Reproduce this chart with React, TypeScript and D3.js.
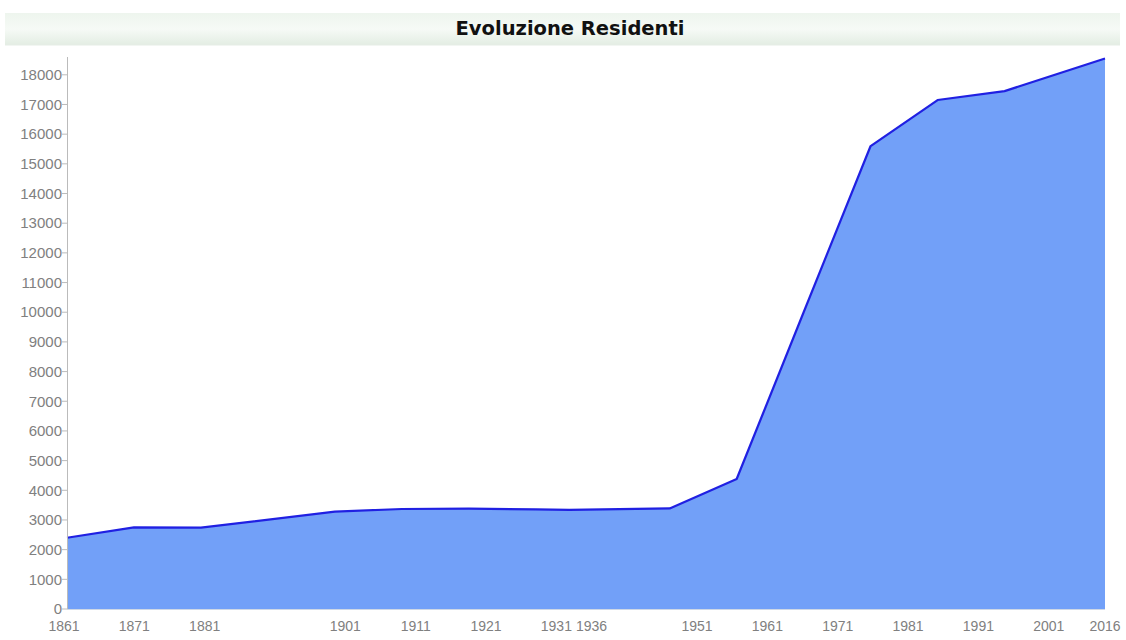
import React from "react";
import * as d3 from "d3";

const years = [1861, 1871, 1881, 1901, 1911, 1921, 1931, 1936, 1951, 1961, 1971, 1981, 1991, 2001, 2016];
const residents = [2400, 2750, 2740, 3280, 3370, 3380, 3360, 3340, 3390, 4380, 10000, 15600, 17150, 17450, 18550];
const yTicks = d3.range(0, 18001, 1000);
const xTickLabels = years;
const title = "Evoluzione Residenti";

const W = 1126;
const H = 640;
const left = 67;
const right = 1105;
const top = 57;
const bottom = 609;

export default function App() {
  const x = d3.scaleLinear().domain([1861, 2016]).range([left, right]);
  const y = d3.scaleLinear().domain([0, 18600]).range([bottom, top]);
  // the original chart spreads its tick labels on a slightly different scale than the data
  const xl = d3.scaleLinear().domain([1861, 2009]).range([left - 3, right]).clamp(true);

  const data = years.map((yr, i) => ({ yr, v: residents[i] }));
  const area = d3
    .area<{ yr: number; v: number }>()
    .x((d) => x(d.yr))
    .y0(y(0))
    .y1((d) => y(d.v));
  const line = d3
    .line<{ yr: number; v: number }>()
    .x((d) => x(d.yr))
    .y((d) => y(d.v));

  return (
    <svg width={W} height={H} style={{ position: "absolute", left: 0, top: 0, background: "#fff" }}>
      <defs>
        <linearGradient id="tbar" x1="0" y1="0" x2="0" y2="1">
          <stop offset="0" stopColor="#eef5ee" />
          <stop offset="0.5" stopColor="#f6faf6" />
          <stop offset="1" stopColor="#e3ede3" />
        </linearGradient>
      </defs>
      <rect x={5} y={13} width={1115} height={32} fill="url(#tbar)" />
      <line x1={5} x2={1120} y1={45} y2={45} stroke="#e6ede6" strokeWidth={1} />
      <text
        x={570}
        y={35}
        textAnchor="middle"
        fontFamily="DejaVu Sans"
        fontWeight="bold"
        fontSize={19.5}
        fill="#111"
      >
        {title}
      </text>

      <path d={area(data) || ""} fill="#72a0f8" />
      <path d={line(data) || ""} fill="none" stroke="#2020e2" strokeWidth={2.2} strokeLinejoin="round" />

      <line x1={left + 0.5} x2={left + 0.5} y1={top} y2={bottom} stroke="#bbbbbb" strokeWidth={1} />
      <line x1={left} x2={right} y1={bottom + 0.5} y2={bottom + 0.5} stroke="#cfd8e6" strokeWidth={1} />

      {yTicks.map((t) => (
        <g key={t}>
          <line x1={left - 5} x2={left} y1={y(t)} y2={y(t)} stroke="#bbbbbb" strokeWidth={1} />
          <text
            x={left - 5}
            y={y(t)}
            dy="0.35em"
            textAnchor="end"
            fontFamily="Liberation Sans"
            fontSize={15}
            fill="#808080"
          >
            {t}
          </text>
        </g>
      ))}

      {xTickLabels.map((t) => (
        <text
          key={t}
          x={xl(t)}
          y={631}
          textAnchor="middle"
          fontFamily="Liberation Sans"
          fontSize={14}
          fill="#808080"
        >
          {t}
        </text>
      ))}
    </svg>
  );
}
